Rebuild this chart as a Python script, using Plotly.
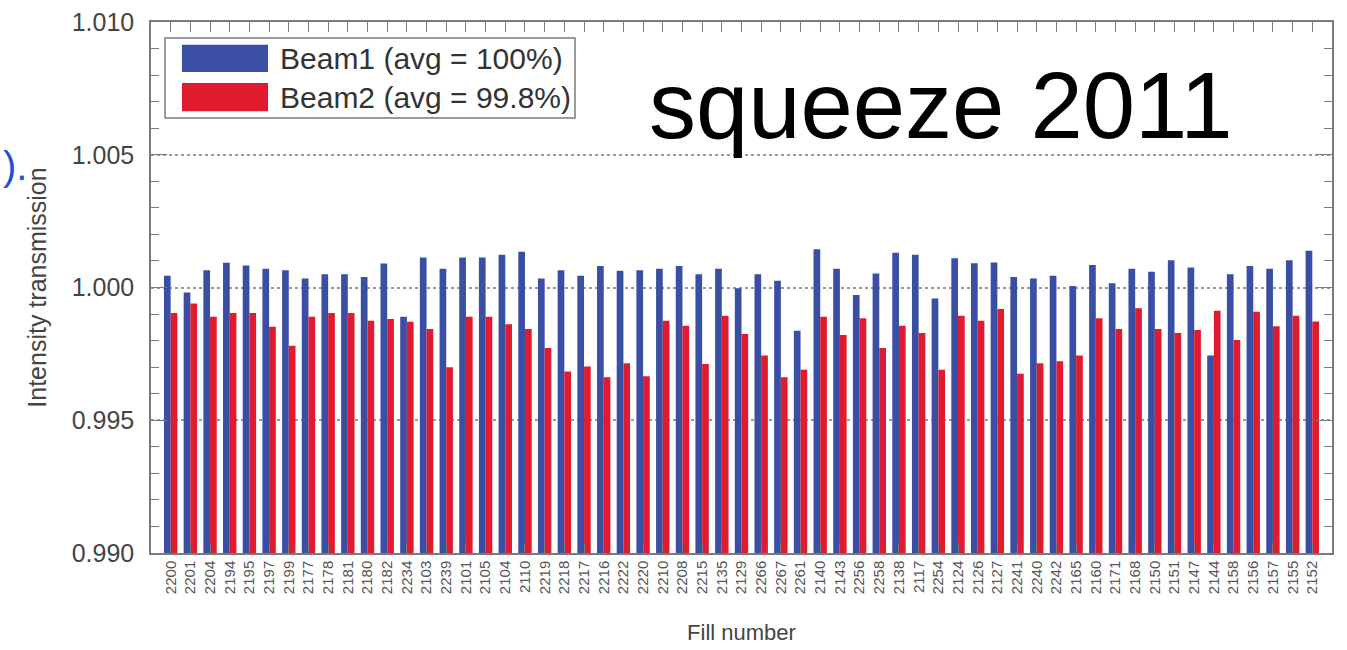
import plotly.graph_objects as go

# Fill numbers (in plotted order)
fills = [
    "2200", "2201", "2204", "2194", "2195", "2197", "2199", "2177", "2178", "2181",
    "2180", "2182", "2234", "2103", "2239", "2101", "2105", "2104", "2110", "2219",
    "2218", "2217", "2216", "2222", "2220", "2210", "2208", "2215", "2135", "2129",
    "2266", "2267", "2261", "2140", "2143", "2256", "2258", "2138", "2117", "2254",
    "2124", "2126", "2127", "2241", "2240", "2242", "2165", "2160", "2171", "2168",
    "2150", "2151", "2147", "2144", "2158", "2156", "2157", "2155", "2152",
]

# Intensity transmission through the squeeze, per beam
beam1 = [
    1.00044, 0.99981, 1.00065, 1.00093, 1.00083, 1.00071, 1.00065, 1.00034, 1.00050, 1.00050,
    1.00040, 1.00090, 0.99890, 1.00113, 1.00071, 1.00113, 1.00113, 1.00123, 1.00135, 1.00034,
    1.00065, 1.00044, 1.00081, 1.00063, 1.00065, 1.00071, 1.00081, 1.00050, 1.00071, 0.99997,
    1.00050, 1.00025, 0.99837, 1.00144, 1.00071, 0.99972, 1.00053, 1.00131, 1.00123, 0.99959,
    1.00110, 1.00091, 1.00094, 1.00040, 1.00034, 1.00044, 1.00006, 1.00085, 1.00016, 1.00071,
    1.00059, 1.00103, 1.00075, 0.99744, 1.00050, 1.00081, 1.00071, 1.00103, 1.00138,
]
beam2 = [
    0.99904, 0.99940, 0.99890, 0.99904, 0.99904, 0.99852, 0.99781, 0.99890, 0.99904, 0.99904,
    0.99875, 0.99881, 0.99871, 0.99844, 0.99700, 0.99890, 0.99890, 0.99862, 0.99844, 0.99772,
    0.99684, 0.99702, 0.99662, 0.99715, 0.99666, 0.99875, 0.99856, 0.99712, 0.99894, 0.99825,
    0.99744, 0.99662, 0.99690, 0.99890, 0.99821, 0.99884, 0.99772, 0.99856, 0.99829, 0.99690,
    0.99894, 0.99875, 0.99919, 0.99675, 0.99715, 0.99722, 0.99744, 0.99884, 0.99844, 0.99922,
    0.99844, 0.99829, 0.99840, 0.99912, 0.99802, 0.99909, 0.99854, 0.99894, 0.99872,
]

beam_names = ["Beam1 (avg = 100%)", "Beam2 (avg = 99.8%)"]
y_ticks = [0.990, 0.995, 1.000, 1.005, 1.010]

BLUE = "#3a4ea4"
RED = "#e01b30"
AXIS_GREY = "#7a7a7a"
TEXT_GREY = "#444444"
FONT = "Liberation Sans, Arial, sans-serif"

fig = go.Figure()
fig.add_trace(go.Bar(x=fills, y=beam1, name=beam_names[0], marker=dict(color=BLUE, line_width=0)))
fig.add_trace(go.Bar(x=fills, y=beam2, name=beam_names[1], marker=dict(color=RED, line_width=0)))

fig.update_layout(
    width=1347,
    height=650,
    margin=dict(l=151, r=15, t=22, b=97),
    paper_bgcolor="white",
    plot_bgcolor="white",
    barmode="group",
    bargap=0.32,
    bargroupgap=0.0,
    showlegend=False,
    font=dict(family=FONT, color=TEXT_GREY),
)

fig.update_xaxes(
    type="category",
    automargin=False,
    range=[-1, len(fills)],
    tickangle=-90,
    tickfont=dict(size=15, color="#555555"),
    ticks="inside",
    ticklen=10,
    tickcolor=AXIS_GREY,
    showline=True,
    linecolor=AXIS_GREY,
    linewidth=1.5,
    mirror="ticks",
    showgrid=False,
    title=dict(text="Fill number", font=dict(size=22, color=TEXT_GREY), standoff=31),
)

fig.update_yaxes(
    automargin=False,
    range=[0.990, 1.010],
    tickvals=y_ticks,
    ticktext=[f"{v:.3f}" for v in y_ticks],
    tickfont=dict(size=25, color=TEXT_GREY),
    ticklabelstandoff=10,
    ticks="inside",
    ticklen=16,
    tickcolor=AXIS_GREY,
    minor=dict(dtick=0.001, ticks="inside", ticklen=8, tickcolor=AXIS_GREY, showgrid=False),
    showline=True,
    linecolor=AXIS_GREY,
    linewidth=1.5,
    mirror="ticks",
    showgrid=True,
    gridcolor="#9a9a9a",
    gridwidth=1.5,
    griddash="dot",
    zeroline=False,
    title=dict(text="Intensity transmission", font=dict(size=25, color=TEXT_GREY), standoff=18),
)

# Legend panel drawn with large colour swatches
fig.add_shape(type="rect", xref="paper", yref="paper", x0=0.0119, x1=0.359, y0=0.819, y1=0.970,
              fillcolor="white", line=dict(color=AXIS_GREY, width=1.5), layer="above")
swatches = [(BLUE, 0.906, 0.957), (RED, 0.832, 0.885)]
for name, (color, y0, y1) in zip(beam_names, swatches):
    fig.add_shape(type="rect", xref="paper", yref="paper", x0=0.0262, x1=0.0991, y0=y0, y1=y1,
                  fillcolor=color, line=dict(color=color, width=0), layer="above")
    fig.add_annotation(xref="paper", yref="paper", x=0.1075, y=(y0 + y1) / 2, text=name,
                       showarrow=False, xanchor="left", yanchor="middle",
                       font=dict(size=30, color="#333333", family=FONT))

# Title-like label inside the plot
fig.add_annotation(xref="paper", yref="paper", x=0.669, y=0.842, text="squeeze 2011",
                   showarrow=False, xanchor="center", yanchor="middle",
                   font=dict(size=94, color="black", family=FONT))

# Trailing fragment of slide text at the left edge
fig.add_annotation(xref="paper", yref="paper", x=(1 - 151) / 1181, y=(553 - 166) / 531, text=").",
                   showarrow=False, xanchor="left", yanchor="middle",
                   font=dict(size=40, color="#1f4fd0", family=FONT))

fig.write_html("out.html")
